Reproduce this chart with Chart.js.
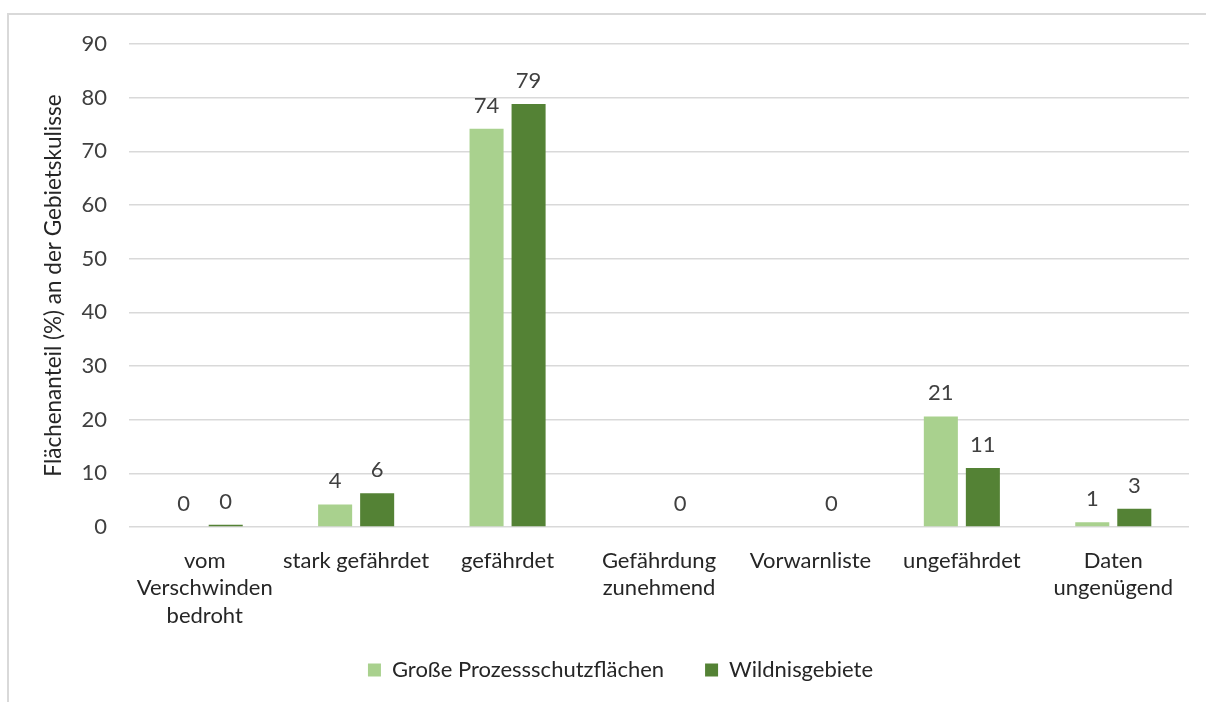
<!DOCTYPE html>
<html>
<head>
<meta charset="utf-8">
<script src="https://cdn.jsdelivr.net/npm/chart.js@4/dist/chart.umd.min.js"></script>
<style>
  html, body { margin: 0; padding: 0; background: #fff; overflow: hidden; }
  #wrap { position: relative; width: 1206px; height: 702px; }
  #frame { position: absolute; left: 7px; top: 13px; width: 1300px; height: 800px;
           border: 2px solid #d9d9d9; box-sizing: border-box; }
  canvas { position: absolute; left: 0; top: 0; }
</style>
</head>
<body>
<div id="wrap">
  <div id="frame"></div>
  <canvas id="chart" width="1206" height="702"></canvas>
</div>
<script>
// categories (Gefährdungskategorien)
var categories = [
    ['vom', 'Verschwinden', 'bedroht'],
    'stark gefährdet',
    'gefährdet',
    ['Gefährdung', 'zunehmend'],
    'Vorwarnliste',
    'ungefährdet',
    ['Daten', 'ungenügend']
];
var prozessschutz = [0.0, 4.2, 74.2, null, null, 20.6, 0.9];
var wildnis = [0.4, 6.3, 78.8, 0, 0, 11.0, 3.4];
var yTicks = [0, 10, 20, 30, 40, 50, 60, 70, 80, 90];

var FONT = 'Lato';

// value labels above the bars
var valueLabels = {
    id: 'valueLabels',
    afterDatasetsDraw: function(chart) {
        var ctx = chart.ctx;
        ctx.save();
        ctx.font = '22px ' + FONT;
        ctx.fillStyle = '#404040';
        ctx.textAlign = 'center';
        ctx.textBaseline = 'alphabetic';
        chart.data.datasets.forEach(function(ds, i) {
            chart.getDatasetMeta(i).data.forEach(function(bar, j) {
                var v = ds.data[j];
                if (v === null || v === undefined) return;
                ctx.fillText(String(Math.round(v)), bar.x, bar.y - 16);
            });
        });
        ctx.restore();
    }
};

// wider gaps between legend entries (trailing spaces only)
var legendTail = ['\u2002', '\u2002\u2002\u2002\u2002\u2002\u2002\u2002'];

new Chart(document.getElementById('chart'), {
    type: 'bar',
    data: {
        labels: categories,
        datasets: [{
            label: 'Große Prozessschutzflächen',
            data: prozessschutz,
            backgroundColor: '#a9d18e',
            categoryPercentage: 0.555,
            barPercentage: 0.81
        }, {
            label: 'Wildnisgebiete',
            data: wildnis,
            backgroundColor: '#548235',
            categoryPercentage: 0.555,
            barPercentage: 0.81
        }]
    },
    options: {
        responsive: false,
        animation: false,
        layout: { padding: { top: 44, right: 17, left: 0, bottom: 11 } },
        plugins: {
            legend: {
                position: 'bottom',
                fullSize: false,
                labels: {
                    font: { family: FONT, size: 22, lineHeight: 1 },
                    color: '#262626',
                    boxWidth: 13,
                    boxHeight: 13,
                    padding: 30,
                    generateLabels: function(chart) {
                        var items = Chart.defaults.plugins.legend.labels.generateLabels(chart);
                        items.forEach(function(it, i) {
                            it.text = it.text + (legendTail[i] || '');
                            it.lineWidth = 0;
                        });
                        return items;
                    }
                }
            },
            tooltip: { enabled: false }
        },
        scales: {
            x: {
                grid: { display: false, drawTicks: false },
                border: { display: false },
                ticks: {
                    font: { family: FONT, size: 22, lineHeight: 1.25 },
                    color: '#262626',
                    padding: 20,
                    maxRotation: 0,
                    autoSkip: false
                },
                afterFit: function(scale) { scale.height = 102; }
            },
            y: {
                min: 0,
                max: 90,
                afterBuildTicks: function(scale) {
                    scale.ticks = yTicks.map(function(v) { return { value: v }; });
                },
                grid: { color: '#d9d9d9', lineWidth: 1.5, drawTicks: false },
                border: { display: false },
                ticks: {
                    font: { family: FONT, size: 22 },
                    color: '#404040',
                    padding: 22
                },
                title: {
                    display: true,
                    text: 'Flächenanteil (%) an der Gebietskulisse',
                    font: { family: FONT, size: 22.5 },
                    color: '#262626',
                    padding: { top: 40 }
                },
                afterFit: function(scale) { scale.width = 129; }
            }
        }
    },
    plugins: [valueLabels]
});
</script>
</body>
</html>
